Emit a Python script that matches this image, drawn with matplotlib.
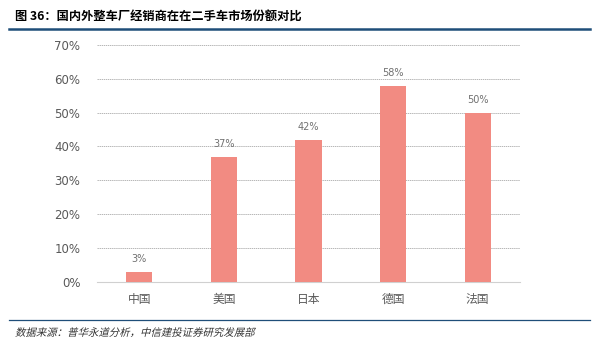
import matplotlib.pyplot as plt
from matplotlib.lines import Line2D
from matplotlib.textpath import TextPath
from matplotlib.patches import PathPatch
from matplotlib.font_manager import FontProperties
from matplotlib.transforms import Affine2D

plt.rcParams['font.family'] = ['Noto Sans CJK SC', 'DejaVu Sans']

# 各国整车厂经销商在二手车市场的份额
countries = ["中国", "美国", "日本", "德国", "法国"]
shares = [3, 37, 42, 58, 50]
yticks = [0, 10, 20, 30, 40, 50, 60, 70]

fig = plt.figure(figsize=(5.99, 3.48), dpi=100)
ax = fig.add_axes([0.162, 0.19, 0.706, 0.681])

x = range(len(countries))
ax.bar(x, shares, width=0.31, color="#F28B82", zorder=3)
for i, v in zip(x, shares):
    ax.text(i, v + 2.2, f"{v}%", ha="center", va="bottom", fontsize=7,
            color="#707070", family="DejaVu Sans")

ax.set_xlim(-0.5, len(countries) - 0.5)
ax.set_ylim(0, 70)
ax.set_yticks(yticks)
ax.set_yticklabels([f"{t}%" for t in yticks], family="DejaVu Sans")
ax.set_xticks(list(x))
ax.set_xticklabels(countries)
ax.tick_params(axis="both", length=0, colors="#595959", labelsize=8.5)
ax.tick_params(axis="y", pad=12)
ax.tick_params(axis="x", pad=8)
ax.yaxis.grid(True, linestyle=(0, (2, 1)), color="#9a9a9a", linewidth=0.5, zorder=0)
for s in ["top", "right", "left"]:
    ax.spines[s].set_visible(False)
ax.spines["bottom"].set_color("#d0d0d0")

# 标题与页脚
fig.text(0.025, 0.952, "图 36：国内外整车厂经销商在在二手车市场份额对比",
         fontsize=8.8, fontweight="heavy", color="black", va="center")
fig.add_artist(Line2D([0.015, 0.985], [0.918, 0.918], color="#1F4E79",
                      linewidth=1.8, transform=fig.transFigure))
fig.add_artist(Line2D([0.015, 0.985], [0.08, 0.08], color="#1F4E79",
                      linewidth=0.9, transform=fig.transFigure))

# 中文字体没有斜体，用倾斜路径模拟
note = "数据来源：普华永道分析，中信建投证券研究发展部"
tp = TextPath((0, 0), note, size=7.5, prop=FontProperties(family="Noto Sans CJK SC"))
slant = Affine2D().skew_deg(14, 0).scale(1 / 72).translate(0.15, 0.12) + fig.dpi_scale_trans
fig.add_artist(PathPatch(tp, transform=slant, facecolor="#333333", edgecolor="none"))

fig.savefig("out.png", dpi=100)
